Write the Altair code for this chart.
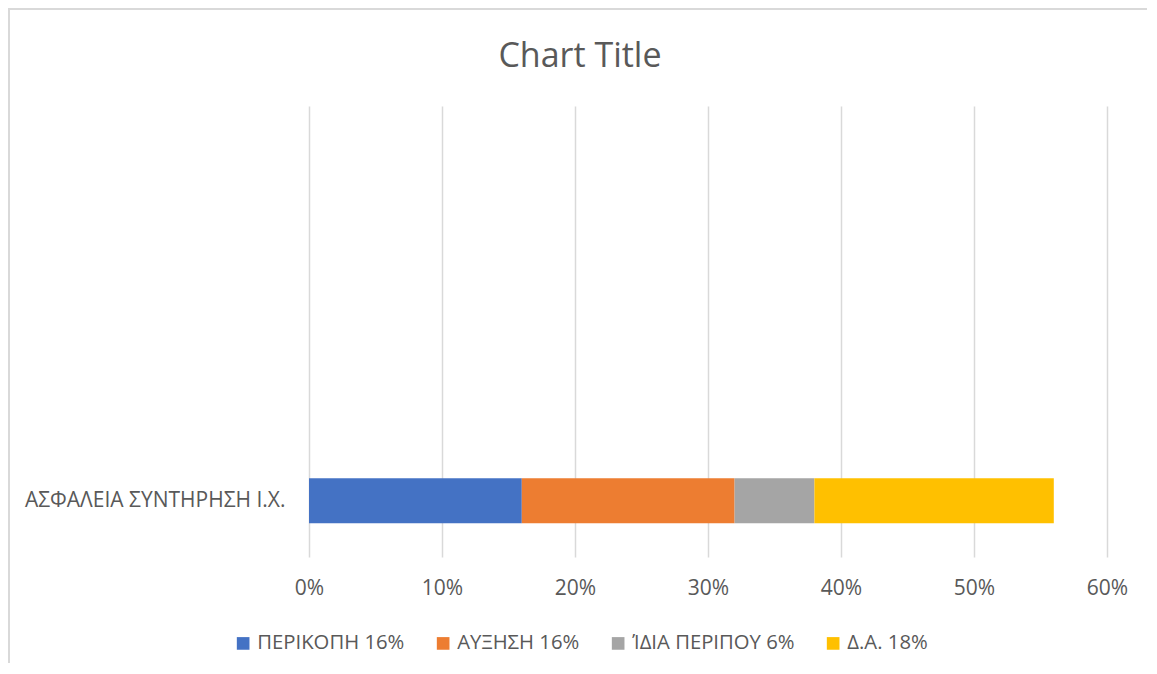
import altair as alt
import pandas as pd

# Data
categories = ["   ", "  ", " ", "ΑΣΦΑΛΕΙΑ ΣΥΝΤΗΡΗΣΗ Ι.Χ."]
bar_category = "ΑΣΦΑΛΕΙΑ ΣΥΝΤΗΡΗΣΗ Ι.Χ."
series = ["ΠΕΡΙΚΟΠΗ 16%", "ΑΥΞΗΣΗ 16%", "ΊΔΙΑ ΠΕΡΙΠΟΥ 6%", "Δ.Α. 18%"]
values = [0.16, 0.16, 0.06, 0.18]
colors = ["#4472C4", "#ED7D31", "#A5A5A5", "#FFC000"]
x_ticks = [0, 0.1, 0.2, 0.3, 0.4, 0.5, 0.6]

df = pd.DataFrame({
    "category": [bar_category] * len(series),
    "series": series,
    "value": values,
    "idx": list(range(len(series))),
})

FONT = "Open Sans"
TXT = "#595959"
GRID = "#D9D9D9"

W, H = 798, 451
PL, PT, PR, PB = 301, 98, 40, 106

bars = alt.Chart(df).mark_bar(size=45).encode(
    x=alt.X("value:Q", stack="zero",
            scale=alt.Scale(domain=[0, 0.6], nice=False),
            axis=alt.Axis(values=x_ticks, format=".0%", title=None,
                          grid=True, gridColor=GRID, gridWidth=1.5,
                          domain=False, ticks=False, labelFlush=False,
                          labelFont=FONT, labelFontSize=21, labelColor=TXT,
                          labelPadding=20)),
    y=alt.Y("category:N", scale=alt.Scale(domain=categories, paddingInner=0.6, paddingOuter=0.3),
            axis=alt.Axis(title=None, domain=False, ticks=False, grid=False,
                          labelLimit=0,
                          labelFont=FONT, labelFontSize=21, labelColor=TXT,
                          labelPadding=24)),
    color=alt.Color("series:N", scale=alt.Scale(domain=series, range=colors),
                    legend=alt.Legend(title=None, orient="none", direction="horizontal",
                                      legendX=-76, legendY=527,
                                      symbolType="square", symbolSize=160,
                                      symbolStrokeWidth=0, symbolOpacity=1,
                                      labelLimit=0,
                                      labelFont=FONT, labelFontSize=20.3, labelColor=TXT,
                                      labelOffset=4, columnPadding=28, padding=0)),
    order=alt.Order("idx:Q", sort="ascending"),
)

border_df = pd.DataFrame({"a": [0]})
left_border = alt.Chart(border_df).mark_rule(color=GRID, strokeWidth=2).encode(
    x=alt.value(-300), y=alt.value(-98), y2=alt.value(H + PB)
)
top_border = alt.Chart(border_df).mark_rule(color=GRID, strokeWidth=2).encode(
    y=alt.value(-97), x=alt.value(-301), x2=alt.value(W + PR)
)

chart = alt.layer(left_border, top_border, bars).properties(
    width=W, height=H,
    title=alt.TitleParams("Chart Title", font=FONT, fontSize=34, fontWeight="normal",
                          color=TXT, anchor="middle", frame="group", dx=-128, offset=-67),
    autosize=alt.AutoSizeParams(type="none"),
    padding={"left": PL, "top": PT, "right": PR, "bottom": PB},
).configure_view(stroke=None)

chart.save("out.html", embed_options={"renderer": "svg", "actions": False})
